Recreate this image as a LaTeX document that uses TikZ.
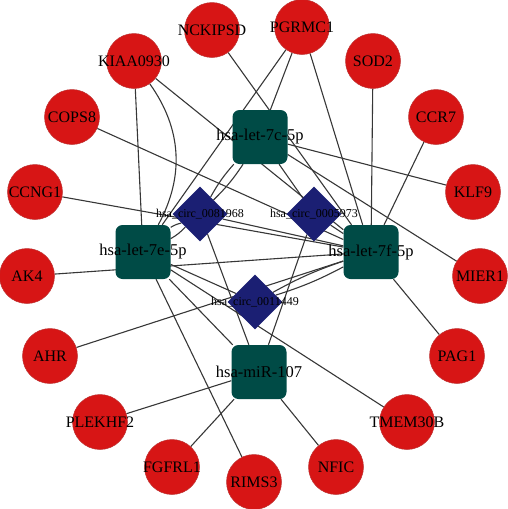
\documentclass[tikz,border=0pt]{standalone}
\usepackage{fontspec}
\setmainfont{Liberation Serif}
\usetikzlibrary{shapes.geometric, backgrounds}
\definecolor{genered}{RGB}{215,21,21}
\definecolor{mirteal}{RGB}{0,75,70}
\definecolor{circnavy}{RGB}{27,31,115}
\definecolor{edgegray}{RGB}{55,55,55}

\begin{document}
\begin{tikzpicture}[x=1pt, y=-1pt,
    gene/.style={circle, fill=genered, draw=genered!70!gray, line width=0.5pt, minimum size=55pt, inner sep=0pt,
        label={[font=\fontsize{16}{16}\selectfont]center:#1}},
    mir/.style={rectangle, rounded corners=7pt, fill=mirteal, minimum width=55pt, minimum height=54pt, inner sep=0pt,
        label={[font=\fontsize{16.5}{16.5}\selectfont]center:#1}},
    circrna/.style={diamond, fill=circnavy, minimum width=55pt, minimum height=55pt, inner sep=0pt,
        label={[font=\fontsize{12}{12}\selectfont]center:#1}},
    link/.style={draw=edgegray, line width=1.1pt}
]
    \useasboundingbox (0,0) rectangle (508,509);

    % miRNA
    \node[mir=hsa-let-7c-5p] (n7c) at (260,137) {};
    \node[mir=hsa-let-7e-5p] (n7e) at (143,252) {};
    \node[mir=hsa-let-7f-5p] (n7f) at (371,252) {};
    \node[mir=hsa-miR-107] (n107) at (259,372) {};

    % circRNA
    \node[circrna=hsa\_circ\_0081968] (c81968) at (200,214) {};
    \node[circrna=hsa\_circ\_0005973] (c5973) at (314,214) {};
    \node[circrna=hsa\_circ\_0011449] (c11449) at (255,302) {};

    % mRNA
    \node[gene=NCKIPSD] (nckipsd) at (212,30) {};
    \node[gene=PGRMC1] (pgrmc1) at (302,27) {};
    \node[gene=KIAA0930] (kiaa) at (134,61) {};
    \node[gene=SOD2] (sod2) at (373,61) {};
    \node[gene=COPS8] (cops8) at (72,117) {};
    \node[gene=CCR7] (ccr7) at (436,117) {};
    \node[gene=CCNG1] (ccng1) at (35,192) {};
    \node[gene=KLF9] (klf9) at (473,192) {};
    \node[gene=AK4] (ak4) at (27,276) {};
    \node[gene=MIER1] (mier1) at (480,276) {};
    \node[gene=AHR] (ahr) at (50,356) {};
    \node[gene=PAG1] (pag1) at (457,356) {};
    \node[gene=PLEKHF2] (plekhf2) at (100,422) {};
    \node[gene=TMEM30B] (tmem30b) at (407,422) {};
    \node[gene=FGFRL1] (fgfrl1) at (172,467) {};
    \node[gene=NFIC] (nfic) at (336,467) {};
    \node[gene=RIMS3] (rims3) at (254,482) {};

    \begin{pgfonlayer}{background}
    \draw[link] (nckipsd) -- (n7f);
    \draw[link] (pgrmc1) -- (n7e);
    \draw[link] (pgrmc1) -- (n7c);
    \draw[link] (pgrmc1) -- (n7f);
    \draw[link] (kiaa) -- (n7e);
    \draw[link] (kiaa) to[bend left=32] (n7e);
    \draw[link] (kiaa) -- (n7f);
    \draw[link] (cops8) -- (n7f);
    \draw[link] (ccng1) -- (n7f);
    \draw[link] (ak4) -- (n7f);
    \draw[link] (ahr) -- (n7f);
    \draw[link] (sod2) -- (n7f);
    \draw[link] (ccr7) -- (n7f);
    \draw[link] (pag1) -- (n7f);
    \draw[link] (klf9) -- (n7c);
    \draw[link] (mier1) -- (n7c);
    \draw[link] (rims3) -- (n7e);
    \draw[link] (tmem30b) -- (n7e);
    \draw[link] (plekhf2) -- (n107);
    \draw[link] (fgfrl1) -- (n107);
    \draw[link] (nfic) -- (n107);
    \draw[link] (n7e) -- (n107);
    % circRNA - miRNA
    \draw[link] (c81968) to[bend left=6] (n7c);
    \draw[link] (c81968) to[bend right=6] (n7c);
    \draw[link] (c81968) to[bend left=8] (n7e);
    \draw[link] (c81968) to[bend right=8] (n7e);
    \draw[link] (c81968) -- (n7f);
    \draw[link] (c81968) -- (n107);
    \draw[link] (c5973) -- (n7c);
    \draw[link] (c5973) -- (n7f);
    \draw[link] (c5973) -- (n107);
    \draw[link] (c11449) -- (n7e);
    \draw[link] (c11449) to[bend left=5] (n7f);
    \draw[link] (c11449) to[bend right=5] (n7f);
    \end{pgfonlayer}
\end{tikzpicture}
\end{document}
